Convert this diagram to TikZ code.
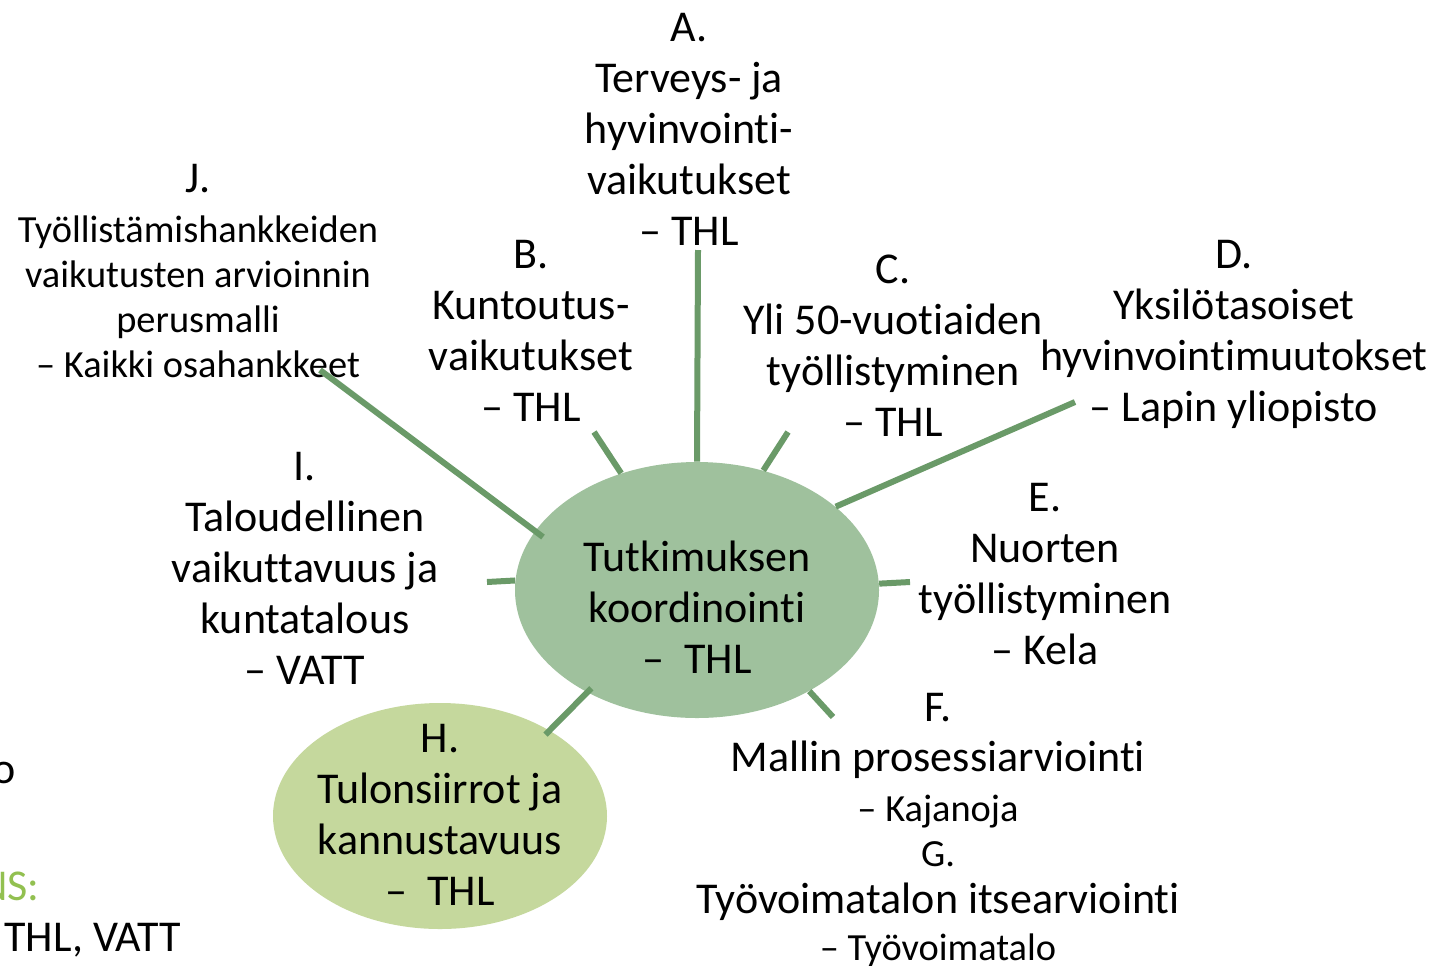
\documentclass[tikz,border=0pt]{standalone}
\usepackage{fontspec}
\setmainfont{Carlito}[Ligatures={NoCommon,NoRare,NoContextual}]
\usetikzlibrary{shapes.geometric}
\definecolor{spoke}{HTML}{6A9A68}
\definecolor{mainfill}{HTML}{9FC19D}
\definecolor{hfill}{HTML}{C5D89D}
\definecolor{greentxt}{HTML}{92C050}
\newcommand{\bigf}{\fontsize{22}{25.5}\selectfont}
\newcommand{\smallf}{\fontsize{19.2}{22.5}\selectfont}
\tikzset{
  lbl/.style={align=center, font=\bigf, inner sep=0pt, text=black},
  slbl/.style={align=center, font=\smallf, inner sep=0pt, text=black},
  blob/.style={ellipse, inner sep=0pt, draw=none},
  spokeline/.style={draw=spoke, line width=3pt}
}
\begin{document}
\begin{tikzpicture}[x=0.5pt,y=-0.5pt]
\useasboundingbox[fill=white] (0,0) rectangle (1439,965);

% central and H ellipses
\node[blob, fill=mainfill, minimum width=182pt, minimum height=128pt] (c) at (697,590) {};
\node[lbl] (ct) at (697,607) {Tutkimuksen\\koordinointi\\–\ \ THL};
\node[blob, fill=hfill, minimum width=167pt, minimum height=113pt] (h) at (440,816) {};
\node[lbl] (ht) at (440,815) {H.\\Tulonsiirrot ja\\kannustavuus\\–\ \ THL};

% labels
\node[lbl] (a) at (689,129) {A.\\Terveys- ja\\hyvinvointi-\\vaikutukset\\– THL};
\node[lbl] (b) at (531,331) {B.\\Kuntoutus-\\vaikutukset\\– THL};
\node[lbl] (cc) at (893,346) {C.\\Yli 50-vuotiaiden\\työllistyminen\\– THL};
\node[lbl] (d) at (1234,334) {D.\\Yksilötasoiset\\hyvinvointimuutokset\\– Lapin yliopisto};
\node[lbl] (e) at (1045,574) {E.\\Nuorten\\työllistyminen\\– Kela};
\node[lbl] (i) at (305,568) {I.\\Taloudellinen\\vaikuttavuus ja\\kuntatalous\\– VATT};
\node[slbl] (j) at (198,271) {{\bigf J.}\\[2.5pt]Työllistämishankkeiden\\vaikutusten arvioinnin\\perusmalli\\– Kaikki osahankkeet};
\node[lbl] (fg) at (938,830) {F.\\[-0.5pt]Mallin prosessiarviointi\\[-0.5pt]{\smallf – Kajanoja}\\[-3pt]{\smallf G.}\\[-2pt]Työvoimatalon itsearviointi\\[-2pt]{\smallf – Työvoimatalo}};

% partial texts at left margin
\node[lbl, anchor=east] (lo) at (16,773) {o};
\node[lbl, anchor=east, text=greentxt] (lns) at (40,886) {NS:};
\node[lbl, anchor=west] (lthl) at (4,940) {THL, VATT};

% spoke end points
\coordinate (pa) at (698,250);
\coordinate (pb) at (594,432);
\coordinate (pc) at (788,432);
\coordinate (pd) at (1075,402);
\coordinate (pe) at (910,582);
\coordinate (pf) at (833,717);
\coordinate (pi) at (487,582);
\coordinate (pj) at (320,370);

% spokes
\draw[spokeline] (c.90) -- (pa);
\draw[spokeline] (c.123) -- (pb);
\draw[spokeline] (c.61) -- (pc);
\draw[spokeline] (c.31.6) -- (pd);
\draw[spokeline] (c.2.5) -- (pe);
\draw[spokeline] (c.-42) -- (pf);
\draw[spokeline, shorten <=-3pt, shorten >=-3pt] (c.223) -- (h.38);
\draw[spokeline] (c.177.5) -- (pi);
\draw[spokeline, shorten <=-5pt] (c.160) -- (pj);
\end{tikzpicture}
\end{document}
